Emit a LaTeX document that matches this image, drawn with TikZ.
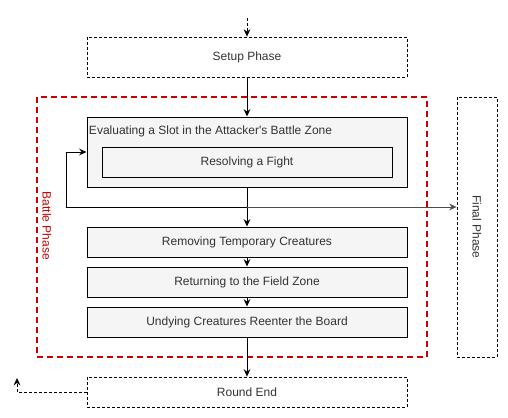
\documentclass[tikz,border=0pt]{standalone}
\usepackage{fontspec}
\setmainfont{Liberation Sans}
\usetikzlibrary{arrows.meta}
\definecolor{boxfill}{HTML}{F5F5F5}
\definecolor{boxtext}{HTML}{333333}
\definecolor{battlered}{HTML}{CC0000}
\definecolor{linegray}{HTML}{4D4D4D}

\begin{document}
\begin{tikzpicture}[x=0.75pt,y=-0.75pt,line width=0.75pt,>={Stealth[length=5.5pt,width=5pt]},
    every node/.style={font=\fontsize{9}{11}\selectfont,text=boxtext},
    phase node/.style={draw,dash pattern=on 2.25pt off 1.5pt,line width=0.6pt,minimum width=240pt,inner sep=0pt},
    step node/.style={draw,fill=boxfill,minimum width=240pt,minimum height=22.5pt,inner sep=0pt}]
    \useasboundingbox (0,0) rectangle (508,418);

    \node[draw=battlered,line width=1.5pt,dash pattern=on 4.5pt off 3pt,minimum width=292.5pt,minimum height=195pt] at (232,227) (battle) {};
    \node[text=battlered,rotate=-90] at (47,226) (battlelabel) {Battle Phase};

    \node[phase node,minimum height=30pt] at (247,57) (setup) {Setup Phase};
    \node[step node,minimum height=52.5pt,label={[anchor=north west,inner sep=0pt,xshift=1.5pt,yshift=-6.5pt]north west:Evaluating a Slot in the Attacker\textquotesingle s Battle Zone}] at (247,152) (eval) {};
    \node[step node,minimum width=217.5pt] at (247,162) (fight) {Resolving a Fight};
    \node[step node] at (247,242) (temp) {Removing Temporary Creatures};
    \node[step node] at (247,282) (field) {Returning to the Field Zone};
    \node[step node] at (247,322) (undying) {Undying Creatures Reenter the Board};
    \node[phase node,minimum height=22.5pt] at (247,392) (roundend) {Round End};
    \node[phase node,minimum width=30pt,minimum height=195pt] at (477,227) (final) {};
    \node[rotate=-90] at (477,227) (finallabel) {Final Phase};

    \coordinate (start) at (247,18);
    \coordinate (back) at (17,378);
    \coordinate (split) at (247,207);

    \draw[->,dash pattern=on 2.25pt off 1.5pt,line width=0.6pt] (start) -- (setup.north);
    \draw[->] (setup.south) -- (eval.north);
    \draw[->] (eval.south) -- (temp.north);
    \draw[->] (split) -| ([xshift=-15pt]eval.west) -- (eval.west);
    \draw[->,linegray] (split) -- (split -| final.west);
    \draw[->] (temp.south) -- (field.north);
    \draw[->] (field.south) -- (undying.north);
    \draw[->] (undying.south) -- (roundend.north);
    \draw[->,dash pattern=on 2.25pt off 1.5pt,line width=0.6pt] (roundend.west) -| (back);
\end{tikzpicture}
\end{document}
